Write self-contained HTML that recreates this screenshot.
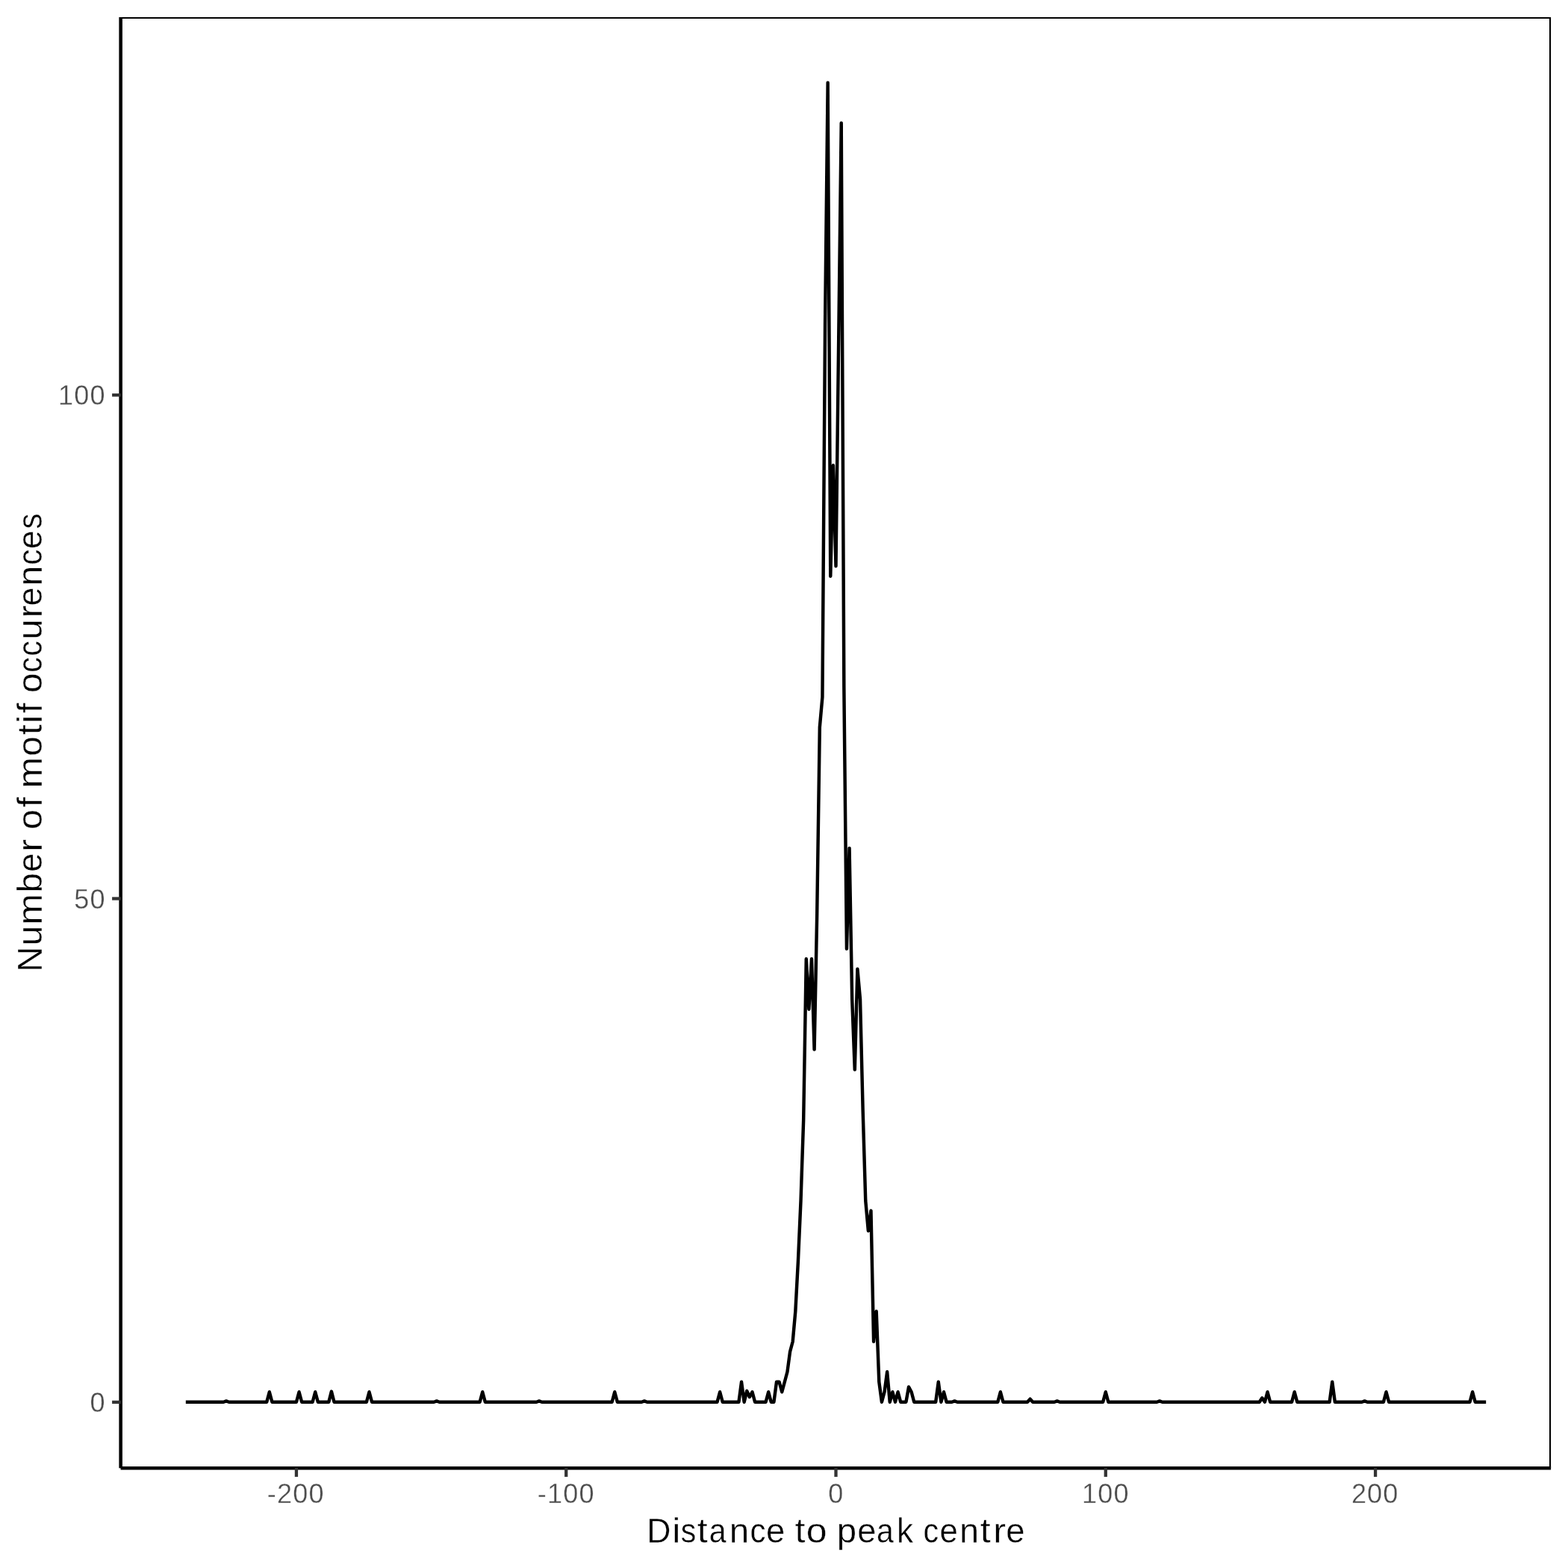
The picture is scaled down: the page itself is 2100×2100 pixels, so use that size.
<!DOCTYPE html>
<html lang="en">
<head>
<meta charset="utf-8">
<title>Number of motif occurences vs distance to peak centre</title>
<style>
html,body{margin:0;padding:0;background:#fff;}
body{width:2100px;height:2100px;overflow:hidden;}
svg{display:block;font-family:"Liberation Sans",sans-serif;}
.tk{stroke:#333;stroke-width:4.3;fill:none;}
.ax{stroke:#000;stroke-width:4.45;fill:none;stroke-linecap:butt;}
.bd{stroke:#000;stroke-width:4.2;fill:none;}
.ln{stroke:#000;stroke-width:4.45;fill:none;stroke-linejoin:round;stroke-linecap:butt;}
.tl{fill:#4d4d4d;font-size:37.8px;stroke:#fff;stroke-width:0.35px;}
.tt{fill:#000;font-size:46.6px;stroke:#fff;stroke-width:0.4px;}
</style>
</head>
<body>
<svg width="2100" height="2100" viewBox="0 0 2100 2100">
<rect x="0" y="0" width="2100" height="2100" fill="#ffffff"/>
<defs><clipPath id="pc"><rect x="161.6" y="22.9" width="1915.50" height="1943.30"/></clipPath></defs>
<g clip-path="url(#pc)">
<polyline class="ln" points="248.82,1877.72 252.43,1877.72 256.04,1877.72 259.65,1877.72 263.27,1877.72 266.88,1877.72 270.49,1877.72 274.10,1877.72 277.72,1877.72 281.33,1877.72 284.94,1877.72 288.56,1877.72 292.17,1877.72 295.78,1877.72 299.39,1877.72 303.01,1876.37 306.62,1877.72 310.23,1877.72 313.85,1877.72 317.46,1877.72 321.07,1877.72 324.68,1877.72 328.30,1877.72 331.91,1877.72 335.52,1877.72 339.14,1877.72 342.75,1877.72 346.36,1877.72 349.97,1877.72 353.59,1877.72 357.20,1877.72 360.81,1864.23 364.42,1877.72 368.04,1877.72 371.65,1877.72 375.26,1877.72 378.88,1877.72 382.49,1877.72 386.10,1877.72 389.71,1877.72 393.33,1877.72 396.94,1877.72 400.55,1864.23 404.17,1877.72 407.78,1877.72 411.39,1877.72 415.00,1877.72 418.62,1877.72 422.23,1864.23 425.84,1877.72 429.46,1877.72 433.07,1877.72 436.68,1877.72 440.29,1877.72 443.91,1863.56 447.52,1877.72 451.13,1877.72 454.74,1877.72 458.36,1877.72 461.97,1877.72 465.58,1877.72 469.20,1877.72 472.81,1877.72 476.42,1877.72 480.03,1877.72 483.65,1877.72 487.26,1877.72 490.87,1877.72 494.49,1864.23 498.10,1877.72 501.71,1877.72 505.32,1877.72 508.94,1877.72 512.55,1877.72 516.16,1877.72 519.78,1877.72 523.39,1877.72 527.00,1877.72 530.61,1877.72 534.23,1877.72 537.84,1877.72 541.45,1877.72 545.06,1877.72 548.68,1877.72 552.29,1877.72 555.90,1877.72 559.52,1877.72 563.13,1877.72 566.74,1877.72 570.35,1877.72 573.97,1877.72 577.58,1877.72 581.19,1877.72 584.81,1876.37 588.42,1877.72 592.03,1877.72 595.64,1877.72 599.26,1877.72 602.87,1877.72 606.48,1877.72 610.10,1877.72 613.71,1877.72 617.32,1877.72 620.93,1877.72 624.55,1877.72 628.16,1877.72 631.77,1877.72 635.38,1877.72 639.00,1877.72 642.61,1877.72 646.22,1864.23 649.84,1877.72 653.45,1877.72 657.06,1877.72 660.67,1877.72 664.29,1877.72 667.90,1877.72 671.51,1877.72 675.13,1877.72 678.74,1877.72 682.35,1877.72 685.96,1877.72 689.58,1877.72 693.19,1877.72 696.80,1877.72 700.42,1877.72 704.03,1877.72 707.64,1877.72 711.25,1877.72 714.87,1877.72 718.48,1877.72 722.09,1876.37 725.70,1877.72 729.32,1877.72 732.93,1877.72 736.54,1877.72 740.16,1877.72 743.77,1877.72 747.38,1877.72 750.99,1877.72 754.61,1877.72 758.22,1877.72 761.83,1877.72 765.45,1877.72 769.06,1877.72 772.67,1877.72 776.28,1877.72 779.90,1877.72 783.51,1877.72 787.12,1877.72 790.74,1877.72 794.35,1877.72 797.96,1877.72 801.57,1877.72 805.19,1877.72 808.80,1877.72 812.41,1877.72 816.02,1877.72 819.64,1877.72 823.25,1864.23 826.86,1877.72 830.48,1877.72 834.09,1877.72 837.70,1877.72 841.31,1877.72 844.93,1877.72 848.54,1877.72 852.15,1877.72 855.77,1877.72 859.38,1877.72 862.99,1876.37 866.60,1877.72 870.22,1877.72 873.83,1877.72 877.44,1877.72 881.06,1877.72 884.67,1877.72 888.28,1877.72 891.89,1877.72 895.51,1877.72 899.12,1877.72 902.73,1877.72 906.34,1877.72 909.96,1877.72 913.57,1877.72 917.18,1877.72 920.80,1877.72 924.41,1877.72 928.02,1877.72 931.63,1877.72 935.25,1877.72 938.86,1877.72 942.47,1877.72 946.09,1877.72 949.70,1877.72 953.31,1877.72 956.92,1877.72 960.54,1877.72 964.15,1864.23 967.76,1877.72 971.38,1877.72 974.99,1877.72 978.60,1877.72 982.21,1877.72 985.83,1877.72 989.44,1877.72 993.05,1850.74 996.66,1877.72 1000.28,1862.88 1003.89,1870.98 1007.50,1864.23 1011.12,1877.72 1014.73,1877.72 1018.34,1877.72 1021.95,1877.72 1025.57,1877.72 1029.18,1864.23 1032.79,1877.72 1036.41,1877.72 1040.02,1850.74 1043.63,1850.74 1047.24,1864.23 1050.86,1850.74 1054.47,1837.26 1058.08,1810.28 1061.70,1796.79 1065.31,1756.33 1068.92,1688.89 1072.53,1607.96 1076.15,1500.06 1079.76,1284.25 1083.37,1351.69 1086.98,1284.25 1090.60,1405.64 1094.21,1223.55 1097.82,974.02 1101.44,933.56 1105.05,434.50 1108.66,110.79 1112.27,771.70 1115.89,623.34 1119.50,758.22 1123.11,461.48 1126.73,164.74 1130.34,920.07 1133.95,1270.76 1137.56,1135.88 1141.18,1338.20 1144.79,1432.62 1148.40,1297.74 1152.02,1338.20 1155.63,1486.57 1159.24,1607.96 1162.85,1648.42 1166.47,1621.45 1170.08,1796.79 1173.69,1756.33 1177.30,1850.74 1180.92,1877.72 1184.53,1864.23 1188.14,1837.26 1191.76,1877.72 1195.37,1864.23 1198.98,1877.72 1202.59,1864.23 1206.21,1877.72 1209.82,1877.72 1213.43,1877.72 1217.05,1857.49 1220.66,1864.23 1224.27,1877.72 1227.88,1877.72 1231.50,1877.72 1235.11,1877.72 1238.72,1877.72 1242.34,1877.72 1245.95,1877.72 1249.56,1877.72 1253.17,1877.72 1256.79,1850.74 1260.40,1877.72 1264.01,1864.23 1267.62,1877.72 1271.24,1877.72 1274.85,1877.72 1278.46,1876.37 1282.08,1877.72 1285.69,1877.72 1289.30,1877.72 1292.91,1877.72 1296.53,1877.72 1300.14,1877.72 1303.75,1877.72 1307.37,1877.72 1310.98,1877.72 1314.59,1877.72 1318.20,1877.72 1321.82,1877.72 1325.43,1877.72 1329.04,1877.72 1332.66,1877.72 1336.27,1877.72 1339.88,1864.23 1343.49,1877.72 1347.11,1877.72 1350.72,1877.72 1354.33,1877.72 1357.94,1877.72 1361.56,1877.72 1365.17,1877.72 1368.78,1877.72 1372.40,1877.72 1376.01,1877.72 1379.62,1873.67 1383.23,1877.72 1386.85,1877.72 1390.46,1877.72 1394.07,1877.72 1397.69,1877.72 1401.30,1877.72 1404.91,1877.72 1408.52,1877.72 1412.14,1877.72 1415.75,1876.37 1419.36,1877.72 1422.98,1877.72 1426.59,1877.72 1430.20,1877.72 1433.81,1877.72 1437.43,1877.72 1441.04,1877.72 1444.65,1877.72 1448.26,1877.72 1451.88,1877.72 1455.49,1877.72 1459.10,1877.72 1462.72,1877.72 1466.33,1877.72 1469.94,1877.72 1473.55,1877.72 1477.17,1877.72 1480.78,1864.23 1484.39,1877.72 1488.01,1877.72 1491.62,1877.72 1495.23,1877.72 1498.84,1877.72 1502.46,1877.72 1506.07,1877.72 1509.68,1877.72 1513.30,1877.72 1516.91,1877.72 1520.52,1877.72 1524.13,1877.72 1527.75,1877.72 1531.36,1877.72 1534.97,1877.72 1538.58,1877.72 1542.20,1877.72 1545.81,1877.72 1549.42,1877.72 1553.04,1876.37 1556.65,1877.72 1560.26,1877.72 1563.87,1877.72 1567.49,1877.72 1571.10,1877.72 1574.71,1877.72 1578.33,1877.72 1581.94,1877.72 1585.55,1877.72 1589.16,1877.72 1592.78,1877.72 1596.39,1877.72 1600.00,1877.72 1603.62,1877.72 1607.23,1877.72 1610.84,1877.72 1614.45,1877.72 1618.07,1877.72 1621.68,1877.72 1625.29,1877.72 1628.90,1877.72 1632.52,1877.72 1636.13,1877.72 1639.74,1877.72 1643.36,1877.72 1646.97,1877.72 1650.58,1877.72 1654.19,1877.72 1657.81,1877.72 1661.42,1877.72 1665.03,1877.72 1668.65,1877.72 1672.26,1877.72 1675.87,1877.72 1679.48,1877.72 1683.10,1877.72 1686.71,1877.72 1690.32,1872.32 1693.94,1877.72 1697.55,1864.23 1701.16,1877.72 1704.77,1877.72 1708.39,1877.72 1712.00,1877.72 1715.61,1877.72 1719.22,1877.72 1722.84,1877.72 1726.45,1877.72 1730.06,1877.72 1733.68,1864.23 1737.29,1877.72 1740.90,1877.72 1744.51,1877.72 1748.13,1877.72 1751.74,1877.72 1755.35,1877.72 1758.97,1877.72 1762.58,1877.72 1766.19,1877.72 1769.80,1877.72 1773.42,1877.72 1777.03,1877.72 1780.64,1877.72 1784.26,1850.74 1787.87,1877.72 1791.48,1877.72 1795.09,1877.72 1798.71,1877.72 1802.32,1877.72 1805.93,1877.72 1809.54,1877.72 1813.16,1877.72 1816.77,1877.72 1820.38,1877.72 1824.00,1877.72 1827.61,1876.37 1831.22,1877.72 1834.83,1877.72 1838.45,1877.72 1842.06,1877.72 1845.67,1877.72 1849.29,1877.72 1852.90,1877.72 1856.51,1864.23 1860.12,1877.72 1863.74,1877.72 1867.35,1877.72 1870.96,1877.72 1874.58,1877.72 1878.19,1877.72 1881.80,1877.72 1885.41,1877.72 1889.03,1877.72 1892.64,1877.72 1896.25,1877.72 1899.86,1877.72 1903.48,1877.72 1907.09,1877.72 1910.70,1877.72 1914.32,1877.72 1917.93,1877.72 1921.54,1877.72 1925.15,1877.72 1928.77,1877.72 1932.38,1877.72 1935.99,1877.72 1939.61,1877.72 1943.22,1877.72 1946.83,1877.72 1950.44,1877.72 1954.06,1877.72 1957.67,1877.72 1961.28,1877.72 1964.90,1877.72 1968.51,1877.72 1972.12,1864.23 1975.73,1877.72 1979.35,1877.72 1982.96,1877.72 1986.57,1877.72 1990.18,1877.72"/>
<rect class="bd" x="161.6" y="22.9" width="1915.50" height="1943.30"/>
</g>
<line class="ax" x1="161.6" y1="22.9" x2="161.6" y2="1966.2"/>
<line class="ax" x1="161.6" y1="1966.2" x2="2077.1" y2="1966.2"/>
<line x1="396.94" y1="1966.20" x2="396.94" y2="1977.90" class="tk"/>
<line x1="758.22" y1="1966.20" x2="758.22" y2="1977.90" class="tk"/>
<line x1="1119.50" y1="1966.20" x2="1119.50" y2="1977.90" class="tk"/>
<line x1="1480.78" y1="1966.20" x2="1480.78" y2="1977.90" class="tk"/>
<line x1="1842.06" y1="1966.20" x2="1842.06" y2="1977.90" class="tk"/>
<line x1="150.10" y1="1877.90" x2="161.60" y2="1877.90" class="tk"/>
<line x1="150.10" y1="1203.50" x2="161.60" y2="1203.50" class="tk"/>
<line x1="150.10" y1="529.10" x2="161.60" y2="529.10" class="tk"/>
<g class="tl" text-anchor="end" letter-spacing="1.2">
<text transform="translate(434.65,2013.00) scale(0.955,1)">-200</text>
<text transform="translate(796.65,2013.00) scale(0.955,1)">-100</text>
<text transform="translate(1130.55,2013.00) scale(0.955,1)">0</text>
<text transform="translate(1512.65,2013.00) scale(0.955,1)">100</text>
<text transform="translate(1873.55,2013.00) scale(0.955,1)">200</text>
<text transform="translate(141.63,1890.90) scale(0.955,1)">0</text>
<text transform="translate(141.63,1216.50) scale(0.955,1)">50</text>
<text transform="translate(141.63,542.06) scale(0.955,1)">100</text>
</g>
<text class="tt" y="2066.00"><tspan x="866.25" textLength="32.17" lengthAdjust="spacingAndGlyphs">D</tspan><tspan x="900.37" textLength="11.18" lengthAdjust="spacingAndGlyphs">i</tspan><tspan x="911.87" textLength="20.50" lengthAdjust="spacingAndGlyphs">s</tspan><tspan x="933.86" textLength="13.98" lengthAdjust="spacingAndGlyphs">t</tspan><tspan x="949.68" textLength="22.81" lengthAdjust="spacingAndGlyphs">a</tspan><tspan x="976.84" textLength="26.46" lengthAdjust="spacingAndGlyphs">n</tspan><tspan x="1004.43" textLength="21.06" lengthAdjust="spacingAndGlyphs">c</tspan><tspan x="1026.08" textLength="25.23" lengthAdjust="spacingAndGlyphs">e</tspan> <tspan x="1064.56" textLength="13.98" lengthAdjust="spacingAndGlyphs">t</tspan><tspan x="1079.68" textLength="27.83" lengthAdjust="spacingAndGlyphs">o</tspan> <tspan x="1120.74" textLength="26.35" lengthAdjust="spacingAndGlyphs">p</tspan><tspan x="1148.19" textLength="25.11" lengthAdjust="spacingAndGlyphs">e</tspan><tspan x="1173.88" textLength="22.81" lengthAdjust="spacingAndGlyphs">a</tspan><tspan x="1200.93" textLength="22.09" lengthAdjust="spacingAndGlyphs">k</tspan> <tspan x="1236.46" textLength="20.71" lengthAdjust="spacingAndGlyphs">c</tspan><tspan x="1258.55" textLength="24.39" lengthAdjust="spacingAndGlyphs">e</tspan><tspan x="1284.89" textLength="26.06" lengthAdjust="spacingAndGlyphs">n</tspan><tspan x="1312.66" textLength="13.98" lengthAdjust="spacingAndGlyphs">t</tspan><tspan x="1330.22" textLength="16.76" lengthAdjust="spacingAndGlyphs">r</tspan><tspan x="1347.28" textLength="25.23" lengthAdjust="spacingAndGlyphs">e</tspan></text>
<text class="tt" transform="translate(56.00,0) rotate(-90)" y="0"><tspan x="-1301.78" textLength="34.14" lengthAdjust="spacingAndGlyphs">N</tspan><tspan x="-1266.63" textLength="26.72" lengthAdjust="spacingAndGlyphs">u</tspan><tspan x="-1238.85" textLength="41.89" lengthAdjust="spacingAndGlyphs">m</tspan><tspan x="-1195.47" textLength="26.48" lengthAdjust="spacingAndGlyphs">b</tspan><tspan x="-1167.95" textLength="25.59" lengthAdjust="spacingAndGlyphs">e</tspan><tspan x="-1140.83" textLength="16.76" lengthAdjust="spacingAndGlyphs">r</tspan> <tspan x="-1110.96" textLength="27.11" lengthAdjust="spacingAndGlyphs">o</tspan><tspan x="-1081.43" textLength="13.98" lengthAdjust="spacingAndGlyphs">f</tspan> <tspan x="-1055.82" textLength="41.92" lengthAdjust="spacingAndGlyphs">m</tspan><tspan x="-1012.72" textLength="26.63" lengthAdjust="spacingAndGlyphs">o</tspan><tspan x="-984.24" textLength="13.98" lengthAdjust="spacingAndGlyphs">t</tspan><tspan x="-968.73" textLength="11.18" lengthAdjust="spacingAndGlyphs">i</tspan><tspan x="-955.28" textLength="13.98" lengthAdjust="spacingAndGlyphs">f</tspan> <tspan x="-928.13" textLength="26.75" lengthAdjust="spacingAndGlyphs">o</tspan><tspan x="-900.64" textLength="20.71" lengthAdjust="spacingAndGlyphs">c</tspan><tspan x="-878.64" textLength="20.71" lengthAdjust="spacingAndGlyphs">c</tspan><tspan x="-856.84" textLength="27.66" lengthAdjust="spacingAndGlyphs">u</tspan><tspan x="-827.58" textLength="16.76" lengthAdjust="spacingAndGlyphs">r</tspan><tspan x="-811.50" textLength="24.99" lengthAdjust="spacingAndGlyphs">e</tspan><tspan x="-784.65" textLength="27.12" lengthAdjust="spacingAndGlyphs">n</tspan><tspan x="-756.78" textLength="21.18" lengthAdjust="spacingAndGlyphs">c</tspan><tspan x="-735.20" textLength="24.99" lengthAdjust="spacingAndGlyphs">e</tspan><tspan x="-708.55" textLength="20.94" lengthAdjust="spacingAndGlyphs">s</tspan></text>

</svg>
</body>
</html>
